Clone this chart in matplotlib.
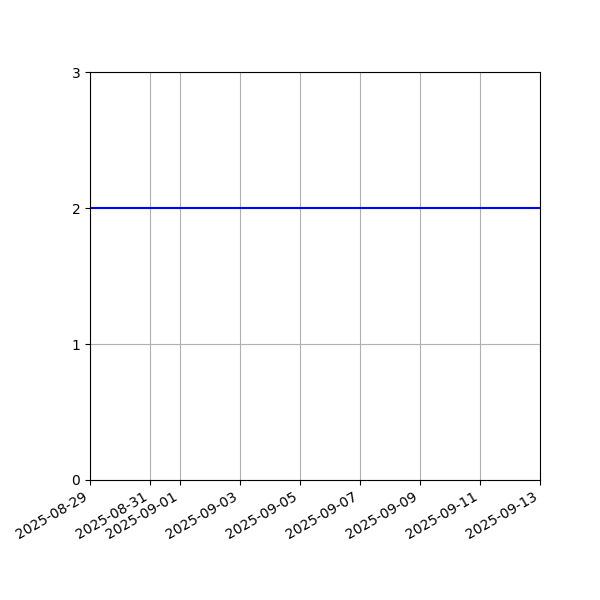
import matplotlib
matplotlib.use("Agg")
import matplotlib.pyplot as plt
import numpy as np

# Data
dates = np.array(["2025-08-29", "2025-09-13"], dtype="datetime64[D]")
values = [2, 2]

fig, ax = plt.subplots(figsize=(6, 6), dpi=100)
ax.plot(dates, values, color="blue", linewidth=1.5)

ax.set_xlim(dates[0], dates[-1])
ax.set_ylim(0, 3)
ax.set_yticks([0, 1, 2, 3])
ax.grid(True)

fig.autofmt_xdate()
fig.subplots_adjust(left=0.15, right=0.9, top=0.88, bottom=0.2)
fig.savefig("out.png")
